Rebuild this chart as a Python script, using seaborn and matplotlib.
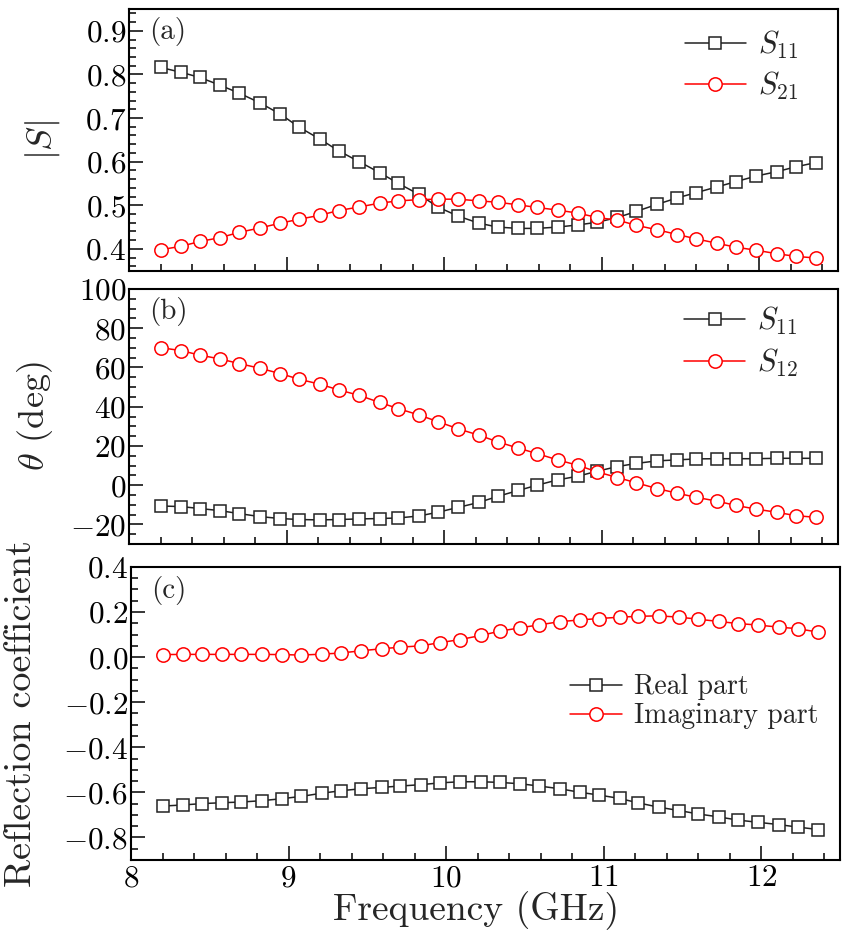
import matplotlib
matplotlib.use('Agg')
import matplotlib.pyplot as plt
import seaborn as sns
from matplotlib.ticker import MultipleLocator, FuncFormatter

# data
freq = [8.20, 8.33, 8.45, 8.58, 8.70, 8.83, 8.96, 9.08, 9.21, 9.33, 9.46, 9.59,
        9.71, 9.84, 9.96, 10.09, 10.22, 10.34, 10.47, 10.59, 10.72, 10.85, 10.97,
        11.10, 11.22, 11.35, 11.48, 11.60, 11.73, 11.85, 11.98, 12.11, 12.23, 12.36]

s11_mag = [0.816, 0.805, 0.793, 0.775, 0.757, 0.735, 0.709, 0.679, 0.652, 0.625,
           0.600, 0.575, 0.550, 0.525, 0.496, 0.475, 0.459, 0.450, 0.447, 0.447,
           0.450, 0.455, 0.461, 0.472, 0.486, 0.502, 0.517, 0.529, 0.542, 0.554,
           0.567, 0.577, 0.588, 0.598]
s21_mag = [0.398, 0.406, 0.417, 0.426, 0.438, 0.448, 0.459, 0.468, 0.477, 0.488,
           0.496, 0.505, 0.510, 0.513, 0.514, 0.514, 0.510, 0.507, 0.501, 0.495,
           0.489, 0.482, 0.472, 0.466, 0.454, 0.444, 0.433, 0.423, 0.413, 0.404,
           0.397, 0.389, 0.383, 0.379]

s11_phase = [-10.6, -10.9, -11.9, -13.0, -14.5, -16.0, -17.0, -17.5, -17.7, -17.5,
             -17.2, -17.0, -16.7, -15.7, -13.8, -11.3, -8.8, -5.7, -2.7, 0.0,
             2.7, 4.6, 7.1, 9.5, 11.1, 12.4, 12.9, 13.4, 13.5, 13.5,
             13.5, 13.7, 13.7, 13.7]
s12_phase = [70.1, 68.6, 66.3, 64.3, 62.0, 59.6, 56.9, 54.0, 51.5, 48.6,
             45.8, 42.2, 39.0, 35.8, 32.4, 28.7, 25.5, 22.1, 18.9, 16.1,
             12.9, 10.1, 6.8, 3.9, 1.2, -1.7, -4.1, -6.2, -8.1, -10.3,
             -12.2, -13.8, -15.5, -16.4]

refl_real = [-0.661, -0.656, -0.650, -0.646, -0.643, -0.637, -0.628, -0.618, -0.604, -0.593,
             -0.584, -0.578, -0.572, -0.566, -0.558, -0.553, -0.553, -0.556, -0.562, -0.572,
             -0.584, -0.600, -0.612, -0.627, -0.647, -0.666, -0.681, -0.696, -0.709, -0.723,
             -0.733, -0.743, -0.754, -0.765]
refl_imag = [0.011, 0.012, 0.012, 0.012, 0.012, 0.012, 0.011, 0.009, 0.013, 0.018,
             0.028, 0.037, 0.044, 0.050, 0.064, 0.078, 0.096, 0.115, 0.130, 0.143,
             0.157, 0.165, 0.171, 0.177, 0.181, 0.183, 0.177, 0.168, 0.158, 0.149,
             0.142, 0.133, 0.126, 0.111]

sns.set_theme(style='ticks')
plt.rcParams['font.family'] = ['cmr10', 'DejaVu Serif']
plt.rcParams['mathtext.fontset'] = 'cm'
plt.rcParams['axes.unicode_minus'] = False
plt.rcParams['axes.linewidth'] = 1.5

BLACK = '#222222'
RED = '#ff0000'


def serie(ax, y, cor, marcador, rotulo, ms):
    sns.lineplot(x=freq, y=y, ax=ax, color=cor, linewidth=1.1, marker=marcador,
                 markersize=ms, markerfacecolor='white', markeredgecolor=cor,
                 markeredgewidth=1.1, label=rotulo)


def estilo(ax, fmt):
    ax.set_xlim(8, 12.5)
    ax.xaxis.set_major_locator(MultipleLocator(1))
    ax.xaxis.set_minor_locator(MultipleLocator(0.2))
    ax.yaxis.set_major_formatter(FuncFormatter(fmt))
    ax.tick_params(which='both', direction='in', top=False, right=False,
                   width=1.1, colors='black', labelsize=22.5, pad=2)
    ax.tick_params(which='major', length=10)
    ax.tick_params(which='minor', length=5)
    for s in ax.spines.values():
        s.set_color('black')


fmt1 = lambda v, p: f'${v:.1f}$'
fmt0 = lambda v, p: f'${v:.0f}$'

fig = plt.figure(figsize=(8.51, 9.38), dpi=100)
ax1 = fig.add_axes([0.1516, 0.7114, 0.8332, 0.2790])
ax2 = fig.add_axes([0.1516, 0.4200, 0.8332, 0.2719])
ax3 = fig.add_axes([0.1540, 0.0832, 0.8332, 0.3124])

# (a) modulo
serie(ax1, s11_mag, BLACK, 's', r'$S_{11}$', 8.4)
serie(ax1, s21_mag, RED, 'o', r'$S_{21}$', 9.6)
ax1.set_ylim(0.35, 0.95)
ax1.yaxis.set_major_locator(MultipleLocator(0.1))
ax1.yaxis.set_minor_locator(MultipleLocator(0.02))
estilo(ax1, fmt1)
ax1.tick_params(axis='x', labelbottom=False)
ax1.set_ylabel(r'$|S|$', fontsize=26)
ax1.yaxis.set_label_coords(-0.094, 0.5)

# (b) fase
serie(ax2, s11_phase, BLACK, 's', r'$S_{11}$', 8.4)
serie(ax2, s12_phase, RED, 'o', r'$S_{12}$', 9.6)
ax2.set_ylim(-30, 100)
ax2.yaxis.set_major_locator(MultipleLocator(20))
ax2.yaxis.set_minor_locator(MultipleLocator(5))
estilo(ax2, fmt0)
ax2.tick_params(axis='x', labelbottom=False)
ax2.set_ylabel(r'$\theta$ (deg)', fontsize=26)
ax2.yaxis.set_label_coords(-0.104, 0.5)

# (c) coeficiente de reflexao
serie(ax3, refl_real, BLACK, 's', 'Real part', 8.4)
serie(ax3, refl_imag, RED, 'o', 'Imaginary part', 9.6)
ax3.set_ylim(-0.9, 0.4)
ax3.yaxis.set_major_locator(MultipleLocator(0.2))
ax3.yaxis.set_minor_locator(MultipleLocator(0.05))
estilo(ax3, fmt1)
ax3.xaxis.set_major_formatter(FuncFormatter(fmt0))
ax3.tick_params(axis='x', pad=3)
ax3.set_ylabel('Reflection coefficient', fontsize=27.5)
ax3.yaxis.set_label_coords(-0.131, 0.5)
ax3.set_xlabel('Frequency (GHz)', fontsize=27)
ax3.xaxis.set_label_coords(0.487, -0.105)

for ax, letra in zip([ax1, ax2, ax3], ['(a)', '(b)', '(c)']):
    ax.text(0.028, 0.97, letra, transform=ax.transAxes, fontsize=21, va='top', ha='left')

for ax, topo in [(ax1, 1.03), (ax2, 1.045)]:
    ax.legend(loc='upper right', bbox_to_anchor=(0.983, topo), frameon=False,
              fontsize=22, handlelength=2.0, handletextpad=0.4, labelspacing=0.3,
              numpoints=1)
ax3.legend(loc='center right', bbox_to_anchor=(1.005, 0.54), frameon=False,
           fontsize=20, handlelength=1.85, handletextpad=0.45, labelspacing=0.1,
           numpoints=1)

fig.savefig('out.png', dpi=100)
